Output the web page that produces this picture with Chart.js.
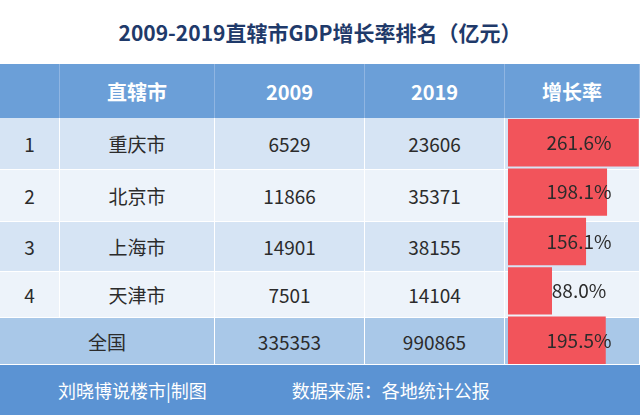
<!DOCTYPE html>
<html><head><meta charset="utf-8">
<script src="https://cdn.jsdelivr.net/npm/chart.js@4"></script>
<style>
body{margin:0;width:640px;height:415px;overflow:hidden;font-family:"Noto Sans CJK SC","Noto Sans",sans-serif;background:#fff;position:relative}
.c{position:absolute;display:flex;align-items:center;justify-content:center;font-size:19px;color:#2b2b2b}
#title{position:absolute;left:0;top:0;width:640px;height:64px;display:flex;align-items:center;justify-content:center;font-size:21px;font-weight:bold;color:#1f3a6a}
#bars{position:absolute;left:505px;top:118px;width:135px;height:247px}
</style></head><body>
<div id="title">2009-2019直辖市GDP增长率排名（亿元）</div>
<div id="tbl"></div>
<div id="bars"><canvas id="cv"></canvas></div>
<script>
// --- datos de la tabla ---
const ranks = ['1', '2', '3', '4', ''];
const cities = ['重庆市', '北京市', '上海市', '天津市', '全国'];
const gdp2009 = [6529, 11866, 14901, 7501, 335353];
const gdp2019 = [23606, 35371, 38155, 14104, 990865];
const growth = [261.6, 198.1, 156.1, 88.0, 195.5];
const headers = ['', '直辖市', '2009', '2019', '增长率'];

const cols = [0, 60, 215, 365, 505, 640];
const rowTops = [118, 170, 222, 272, 318, 365];
const rowBg = ['#d6e4f4', '#edf3fa', '#d6e4f4', '#edf3fa', '#a9c8e8'];
const tbl = document.getElementById('tbl');

function cell(x, y, w, h, txt, bg, color, extra) {
    const d = document.createElement('div');
    d.className = 'c';
    d.style.cssText += `left:${x}px;top:${y}px;width:${w}px;height:${h}px;background:${bg};color:${color || '#2b2b2b'};${extra || ''}`;
    d.textContent = txt;
    tbl.appendChild(d);
}

// cabecera
headers.forEach((h, i) => {
    cell(cols[i], 64, cols[i + 1] - cols[i], 54, h, '#6b9fd8', '#fff', 'font-weight:bold;font-size:20px;border-right:1px solid #8fb5e2;box-sizing:border-box');
});

// filas
cities.forEach((c, r) => {
    const y = rowTops[r], h = rowTops[r + 1] - rowTops[r];
    const vals = [ranks[r], c, String(gdp2009[r]), String(gdp2019[r]), ''];
    vals.forEach((v, i) => {
        const extra = 'border-right:1px solid #fff;border-bottom:1px solid #fff;box-sizing:border-box';
        if (r === 4 && i === 0) return;
        if (r === 4 && i === 1) { cell(0, y, 215, h, v, rowBg[r], null, extra); return; }
        cell(cols[i], y, cols[i + 1] - cols[i], h, v, rowBg[r], null, extra);
    });
});

// pie
const foot = document.createElement('div');
foot.style.cssText = 'position:absolute;left:0;top:365px;width:640px;height:50px;background:#5b93d3;color:#fff;font-size:18px;display:flex;align-items:center';
foot.innerHTML = '<span style="margin-left:58px">刘晓博说楼市|制图</span><span style="margin-left:85px">数据来源：各地统计公报</span>';
document.body.appendChild(foot);

// barras de crecimiento
new Chart(document.getElementById('cv'), {
    type: 'bar',
    data: {
        labels: cities,
        datasets: [{ data: growth, backgroundColor: '#f2545b', categoryPercentage: 1, barPercentage: 0.96 }]
    },
    options: {
        indexAxis: 'y', responsive: true, maintainAspectRatio: false, animation: false,
        layout: { padding: { left: 3, top: 0, bottom: 0, right: 0 } },
        scales: { x: { display: false, min: 0, max: 264 }, y: { display: false } },
        plugins: { legend: { display: false }, tooltip: { enabled: false } }
    },
    plugins: [{
        id: 'labels',
        afterDatasetsDraw(chart) {
            const { ctx, chartArea } = chart;
            ctx.save();
            ctx.font = '19px "Noto Sans CJK SC"';
            ctx.fillStyle = '#2b2b2b';
            ctx.textAlign = 'center';
            ctx.textBaseline = 'middle';
            chart.getDatasetMeta(0).data.forEach((b, i) => {
                ctx.fillText(growth[i].toFixed(1) + '%', (chartArea.left + chartArea.right) / 2 + 5, b.y);
            });
            ctx.restore();
        }
    }]
});
</script>
</body></html>
